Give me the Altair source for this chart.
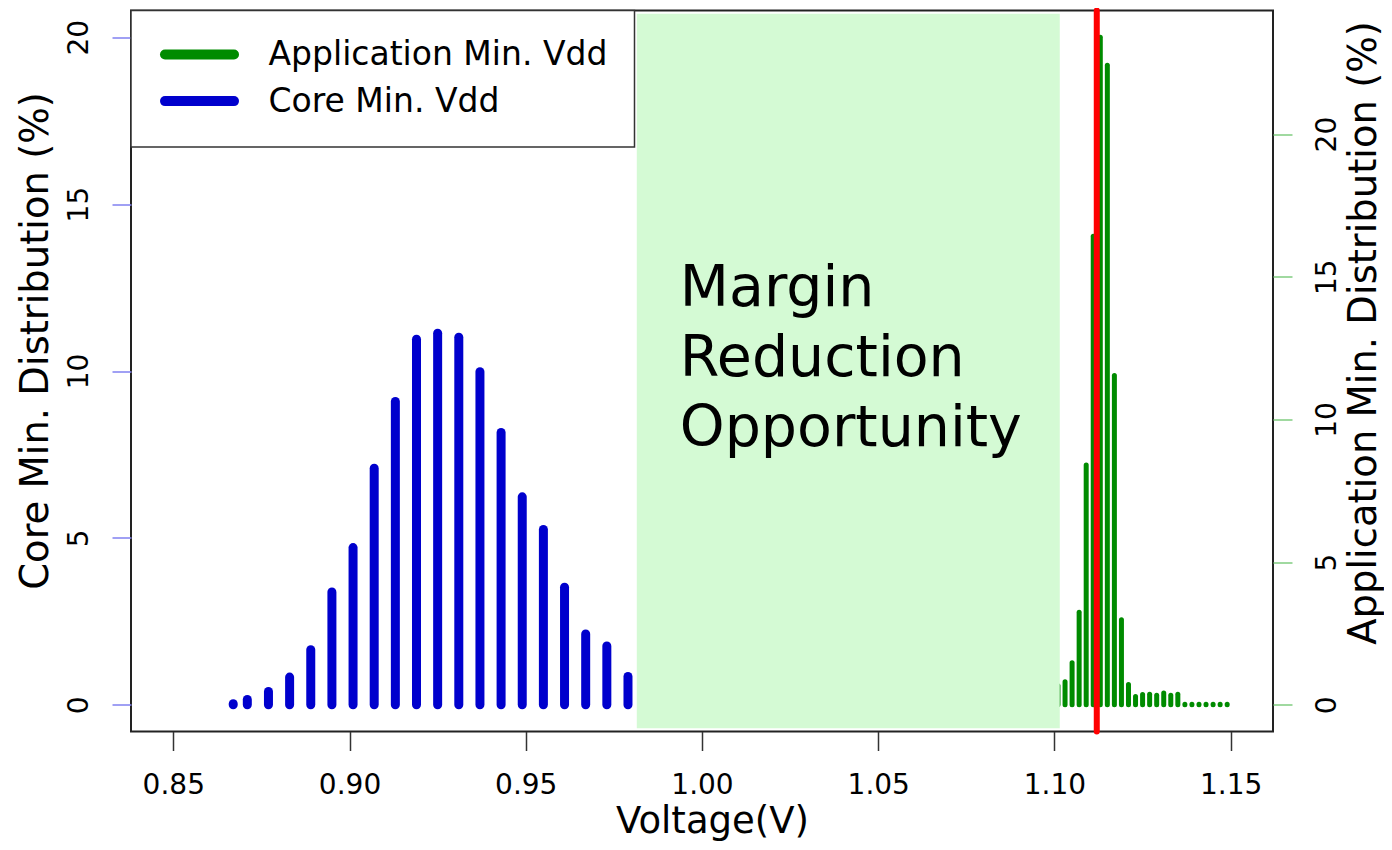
import altair as alt
import pandas as pd

# ---------------- data ----------------
core_voltage = [0.867, 0.871, 0.877, 0.883, 0.889, 0.895, 0.901, 0.907, 0.913, 0.919,
                0.925, 0.931, 0.937, 0.943, 0.949, 0.955, 0.961, 0.967, 0.973, 0.979]
core_pct = [0.03, 0.16, 0.40, 0.83, 1.65, 3.38, 4.71, 7.09, 9.09, 10.95,
            11.13, 11.01, 9.98, 8.16, 6.23, 5.25, 3.52, 2.12, 1.76, 0.85]

app_voltage = [1.101, 1.103, 1.105, 1.107, 1.109, 1.111, 1.113, 1.115, 1.117, 1.119,
               1.121, 1.123, 1.125, 1.127, 1.129, 1.131, 1.133, 1.135, 1.137, 1.139,
               1.141, 1.143, 1.145, 1.147, 1.149]
app_pct = [0.67, 0.81, 1.47, 3.24, 8.40, 16.42, 23.39, 22.41, 11.54, 2.98,
           0.71, 0.29, 0.36, 0.37, 0.33, 0.41, 0.33, 0.37, 0.02, 0.02,
           0.02, 0.02, 0.02, 0.02, 0.02]

margin_x = [0.9815, 1.1015]
margin_y = [-0.7, 20.7]
margin_label = "Margin\nReduction\nOpportunity"
margin_label_pos = [0.9937, 11.95]

min_vdd = [1.112]

legend_labels = ["Application Min. Vdd", "Core Min. Vdd"]
legend_colors = ["#008b00", "#0000cd"]

x_ticks = [0.85, 0.90, 0.95, 1.00, 1.05, 1.10, 1.15]
y_ticks = [0, 5, 10, 15, 20]

FONT = "DejaVu Sans"

x_scale = alt.Scale(domain=[0.838, 1.162], nice=False, zero=False)
left_scale = alt.Scale(domain=[-0.8, 20.8], nice=False, zero=False)
right_scale = alt.Scale(domain=[-0.936, 24.33], nice=False, zero=False)

core_df = pd.DataFrame({"v": core_voltage, "pct": core_pct})
app_df = pd.DataFrame({"v": app_voltage, "pct": app_pct})

x_axis = alt.Axis(values=x_ticks, format=".2f", title="Voltage(V)", grid=False, domain=False,
                  tickSize=19, tickWidth=1.5, tickColor="#333333",
                  labelFont=FONT, labelFontSize=28, labelColor="black", labelPadding=21,
                  labelBaseline="top", labelFlush=False, labelOverlap=False,
                  titleFont=FONT, titleFontSize=37, titleFontWeight="normal", titleColor="black",
                  titleX=581, titleY=100.5, titleAlign="center", titleBaseline="alphabetic")

left_axis = alt.Axis(orient="left", values=y_ticks, title="Core Min. Distribution (%)", grid=False,
                     domain=False, tickSize=19, tickWidth=1.5, tickColor="#8080f0",
                     labelFont=FONT, labelFontSize=28, labelColor="black", labelAngle=270,
                     labelAlign="center", labelBaseline="alphabetic", labelPadding=25,
                     labelFlush=False, labelOverlap=False,
                     titleFont=FONT, titleFontSize=38.5, titleFontWeight="normal", titleColor="black",
                     titleAngle=270, titleX=-84, titleY=330, titleAlign="center",
                     titleBaseline="alphabetic")

right_axis = alt.Axis(orient="right", values=y_ticks, title="Application Min. Distribution (%)",
                      grid=False, domain=False, tickSize=19, tickWidth=1.5, tickColor="#80cc80",
                      labelFont=FONT, labelFontSize=28, labelColor="black", labelAngle=270,
                      labelAlign="center", labelBaseline="alphabetic", labelPadding=43.5,
                      labelFlush=False, labelOverlap=False,
                      titleFont=FONT, titleFontSize=38.5, titleFontWeight="normal", titleColor="black",
                      titleAngle=270, titleX=102, titleY=322, titleAlign="center",
                      titleBaseline="alphabetic")

core = alt.Chart(core_df).mark_rule(color=legend_colors[1], strokeWidth=9, strokeCap="round").encode(
    x=alt.X("v:Q", scale=x_scale, axis=x_axis),
    y=alt.Y("pct:Q", scale=left_scale, axis=left_axis),
    y2=alt.datum(0),
)

app = alt.Chart(app_df).mark_rule(color=legend_colors[0], strokeWidth=5, strokeCap="round").encode(
    x=alt.X("v:Q", scale=x_scale, axis=x_axis),
    y=alt.Y("pct:Q", scale=right_scale, axis=right_axis),
    y2=alt.datum(0),
)

rect_df = pd.DataFrame({"v": [margin_x[0]], "v2": [margin_x[1]],
                        "y1": [margin_y[0]], "y2": [margin_y[1]]})
margin_rect = alt.Chart(rect_df).mark_rect(color="#d4fad4").encode(
    x=alt.X("v:Q", scale=x_scale, axis=x_axis), x2="v2:Q",
    y=alt.Y("y1:Q", scale=left_scale, axis=None), y2="y2:Q",
)

text_df = pd.DataFrame({"v": [margin_label_pos[0]], "y": [margin_label_pos[1]],
                        "label": [margin_label]})
margin_text = alt.Chart(text_df).mark_text(
    align="left", baseline="alphabetic", font=FONT, fontSize=57, lineBreak="\n",
    lineHeight=70, color="black"
).encode(
    x=alt.X("v:Q", scale=x_scale, axis=x_axis),
    y=alt.Y("y:Q", scale=left_scale, axis=None),
    text="label:N",
)

red = alt.Chart(pd.DataFrame({"v": min_vdd})).mark_rule(
    color="#ff0000", strokeWidth=6, strokeCap="round"
).encode(x=alt.X("v:Q", scale=x_scale, axis=x_axis))

legend_box = alt.Chart(pd.DataFrame({"k": [0]})).mark_rect(
    fill="white", stroke="#333333", strokeWidth=1.5
).encode(x=alt.value(0), x2=alt.value(503.5), y=alt.value(0), y2=alt.value(136.5))

legend_layers = []
for i, (lab, col) in enumerate(zip(legend_labels, legend_colors)):
    ldf = pd.DataFrame({"label": [lab]})
    ly = 44 + i * 46.6
    legend_layers.append(
        alt.Chart(ldf).mark_rule(color=col, strokeWidth=10, strokeCap="round").encode(
            x=alt.value(34), x2=alt.value(103), y=alt.value(ly))
    )
    legend_layers.append(
        alt.Chart(ldf).mark_text(align="left", baseline="alphabetic", font=FONT, fontSize=33,
                                 color="black").encode(
            x=alt.value(137.5), y=alt.value(54 + i * 47.5), text="label:N")
    )

chart = alt.layer(core, app, margin_rect, margin_text, red, legend_box, *legend_layers).resolve_scale(
    y="independent"
).properties(
    width=1142, height=721,
    autosize=alt.AutoSizeParams(type="none"),
    padding={"left": 123, "top": 2.5, "right": 111, "bottom": 110},
).configure_view(stroke="#222222", strokeWidth=2)

chart.save("out.html", embed_options={"renderer": "svg", "actions": False})
